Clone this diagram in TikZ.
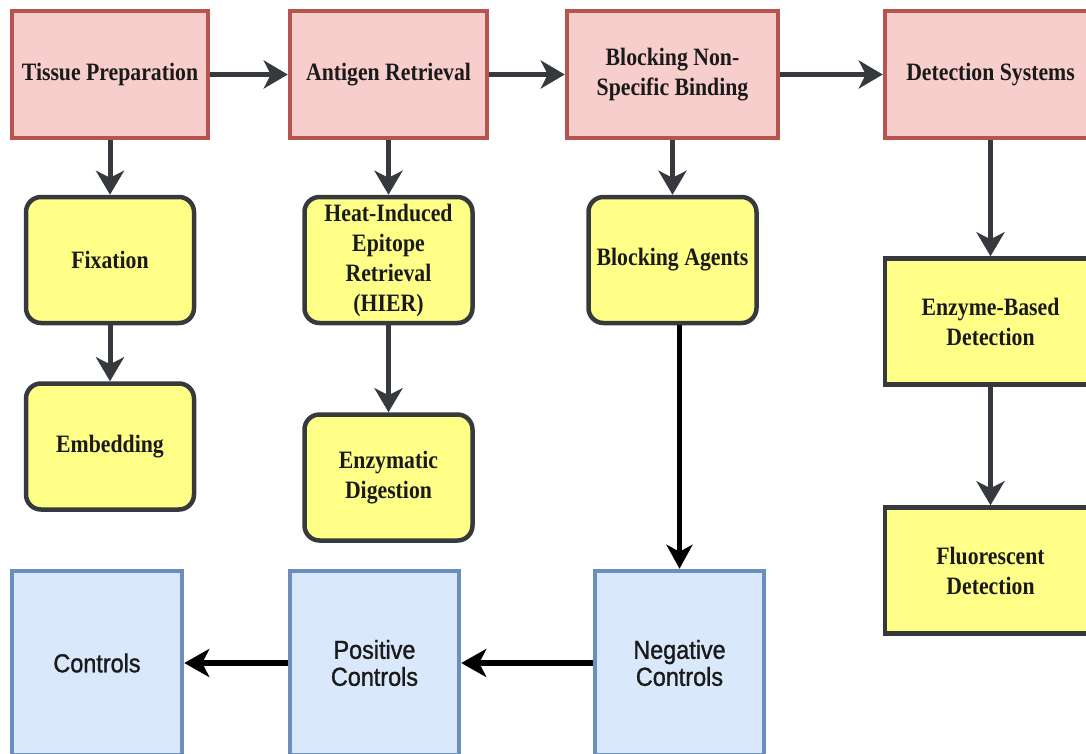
\documentclass[tikz,border=0pt]{standalone}
\usepackage{fontspec}
\setmainfont{Liberation Serif}[FakeStretch=0.87]
\newfontfamily\ctlfont{Liberation Sans}[FakeStretch=0.9, FakeBold=1.2]
\usetikzlibrary{arrows.meta}
\definecolor{redfill}{HTML}{F8CECC}
\definecolor{redline}{HTML}{B85450}
\definecolor{yfill}{HTML}{FFFF88}
\definecolor{ydark}{HTML}{36393D}
\definecolor{bluefill}{HTML}{DAE8FC}
\definecolor{blueline}{HTML}{6C8EBF}
\definecolor{txt}{HTML}{1A1A1A}
\begin{document}
\begin{tikzpicture}[x=1pt,y=-1pt,
  redbox/.style={draw=redline, fill=redfill, line width=4.5pt, minimum height=127pt,
    inner sep=0pt, align=center, text=txt, font=\bfseries\fontsize{25}{30}\selectfont},
  ybox/.style={draw=ydark, fill=yfill, line width=4.5pt, rounded corners=15pt,
    minimum width=168pt, minimum height=126pt, inner sep=0pt, align=center, text=txt,
    font=\bfseries\fontsize{25}{30}\selectfont},
  bbox/.style={draw=blueline, fill=bluefill, line width=4.5pt, minimum width=170pt,
    minimum height=184pt, inner sep=0pt, align=center, text=txt,
    font=\ctlfont\fontsize{26}{27}\selectfont},
  garrow/.style={draw=ydark, line width=5pt, -{Stealth[length=24pt,width=28pt,inset=7pt]}},
  karrow/.style={draw=black, line width=5.5pt, -{Stealth[length=25pt,width=28pt,inset=7pt]}},
  karrowthin/.style={draw=black, line width=4.5pt, -{Stealth[length=24pt,width=26pt,inset=7pt]}}
]
\useasboundingbox (0,0) rectangle (1086,753);
\fill[white] (0,0) rectangle (1086,753);
\clip (0,0) rectangle (1086,753);

% top row
\node[redbox, minimum width=196pt] (tp) at (110,74.5) {Tissue Preparation};
\node[redbox, minimum width=197pt] (ar) at (388.5,74.5) {Antigen Retrieval};
\node[redbox, minimum width=211pt] (bn) at (672.5,74.5) {Blocking Non-\\Specific Binding};
\node[redbox, minimum width=211pt] (ds) at (990.5,74.5) {Detection Systems};

% yellow boxes
\node[ybox] (fx) at (110,260) {Fixation};
\node[ybox] (em) at (110,446.5) {Embedding};
\node[ybox] (hi) at (388.5,260) {Heat-Induced\\Epitope\\Retrieval\\(HIER)};
\node[ybox] (ed) at (388.5,477.5) {Enzymatic\\Digestion};
\node[ybox] (ba) at (672.5,260) {Blocking Agents};
\node[ybox, sharp corners, minimum width=211pt] (eb) at (990.5,321.5) {Enzyme-Based\\Detection};
\node[ybox, sharp corners, minimum width=211pt] (fl) at (990.5,570.5) {Fluorescent\\Detection};

% blue boxes
\node[bbox] (ct) at (97,663) {Controls};
\node[bbox, minimum width=169pt] (pc) at (374.5,663) {Positive\\Controls};
\node[bbox, minimum width=169pt] (nc) at (679.5,663) {Negative\\Controls};

% connectors
\draw[garrow] (tp) -- (ar);
\draw[garrow] (ar) -- (bn);
\draw[garrow] (bn) -- (ds);
\draw[garrow] (tp) -- (fx);
\draw[garrow] (fx) -- (em);
\draw[garrow] (ar) -- (hi);
\draw[garrow] (hi) -- (ed);
\draw[garrow] (bn) -- (ba);
\draw[garrow] (ds) -- (eb);
\draw[garrow] (eb) -- (fl);
\draw[karrowthin] (ba.south -| nc.north) -- (nc.north);
\draw[karrow] (nc) -- (pc);
\draw[karrow] (pc) -- (ct);
\end{tikzpicture}
\end{document}
